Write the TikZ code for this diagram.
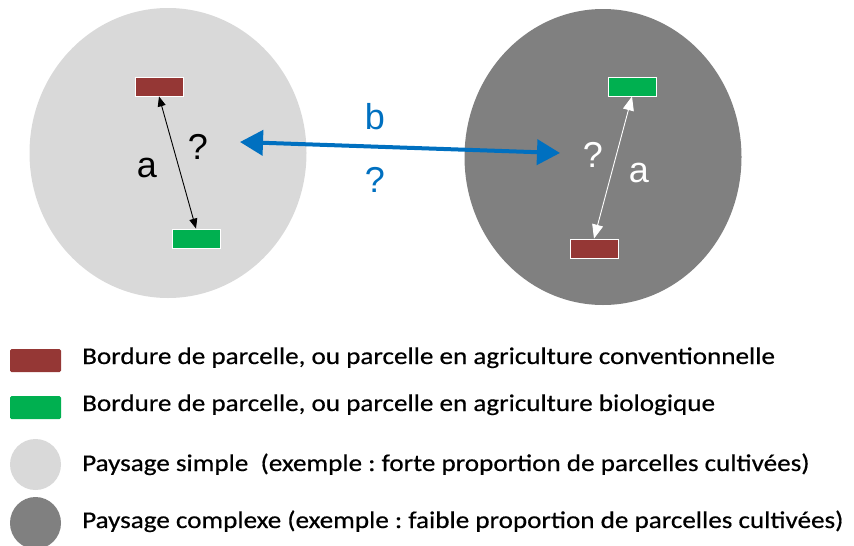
\documentclass[tikz,border=0pt]{standalone}
\usepackage{fontspec}
\setmainfont{Liberation Sans}
\newfontfamily\legfont[FakeStretch=1.13,FakeBold=0.5]{Carlito}
\usetikzlibrary{shapes.geometric,arrows.meta}
\definecolor{lgray}{HTML}{D9D9D9}
\definecolor{dgray}{HTML}{808080}
\definecolor{redp}{HTML}{953735}
\definecolor{greenp}{HTML}{00B050}
\definecolor{bluea}{HTML}{0070C0}
\begin{document}
\frenchspacing
\begin{tikzpicture}[x=1pt,y=-1pt,
  parcel/.style={draw=white, line width=0.8pt, minimum width=48pt, minimum height=19pt, inner sep=0pt},
  land/.style={ellipse, inner sep=0pt},
  lab/.style={font=\fontsize{36}{36}\selectfont, inner sep=0pt},
  legbox/.style={rounded corners=1.5pt, minimum width=51pt, minimum height=23pt, inner sep=0pt},
  legdisc/.style={ellipse, minimum width=51pt, minimum height=51pt, inner sep=0pt},
  legtext/.style={font=\legfont\fontsize{24}{24}\selectfont\frenchspacing, anchor=base west, inner sep=0pt},
  dist/.style={line width=0.9pt, {Triangle[length=10pt,width=8pt]}-{Triangle[length=10pt,width=8pt]}},
  distw/.style={white, line width=0.9pt, {Triangle[length=14pt,width=11pt]}-{Triangle[length=14pt,width=11pt]}},
  link/.style={bluea, line width=4pt, {Triangle[length=23pt,width=25pt]}-{Triangle[length=23pt,width=25pt]}}
  ]
\useasboundingbox (0,0) rectangle (854,546);
% landscapes
\node[land, fill=lgray, minimum width=277pt, minimum height=290pt] (simple) at (168,153) {};
\node[land, fill=dgray, minimum width=277pt, minimum height=296pt] (complex) at (603,157) {};
% parcels left
\node[parcel, fill=redp] (lr) at (159,86.5) {};
\node[parcel, fill=greenp] (lg) at (196,238.5) {};
% parcels right
\node[parcel, fill=greenp] (rg) at (632,86.5) {};
\node[parcel, fill=redp] (rr) at (594,248.5) {};
% within-landscape distances
\draw[dist] (lr.south) -- (lg.north);
\draw[distw] (rg.south) -- (rr.north);
\node[lab] (la) at (147,168) {a};
\node[lab] (lq) at (198,147) {?};
\node[lab, white] (rq) at (593,155) {?};
\node[lab, white] (ra) at (639,173) {a};
% between-landscape link
\coordinate (bl) at (240,142);
\coordinate (br) at (560,153);
\draw[link] (bl) -- (br);
\node[lab, bluea] (b) at (375,117) {b};
\node[lab, bluea] (bq) at (375,180) {?};
% legend
\node[legbox, fill=redp] (k1) at (35.5,360.5) {};
\node[legbox, fill=greenp] (k2) at (35.5,407.5) {};
\node[legdisc, fill=lgray] (k3) at (35.5,464.5) {};
\node[legdisc, fill=dgray, minimum height=52pt] (k4) at (35.5,523) {};
\node[legtext] (t1) at (82,364) {Bordure de parcelle, ou parcelle en agriculture conventionnelle};
\node[legtext] (t2) at (82,411) {Bordure de parcelle, ou parcelle en agriculture biologique};
\node[legtext] (t3) at (82,471) {Paysage simple\ \ (exemple : forte proportion de parcelles cultivées)};
\node[legtext] (t4) at (82,528) {Paysage complexe (exemple : faible proportion de parcelles cultivées)};
\end{tikzpicture}
\end{document}
